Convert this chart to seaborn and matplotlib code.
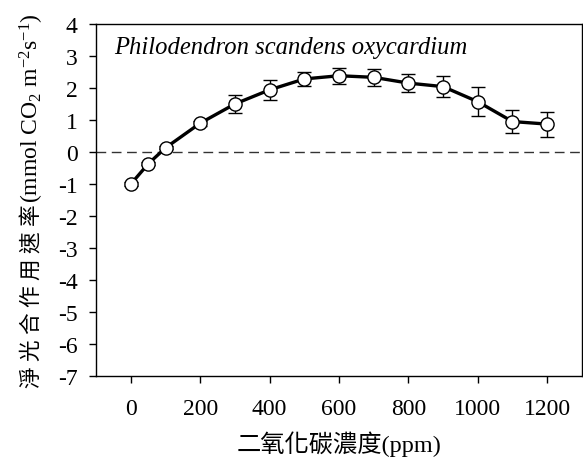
import matplotlib
matplotlib.use("Agg")
import matplotlib.pyplot as plt
import seaborn as sns
import pandas as pd

# CO2 concentration (ppm) and net photosynthesis rate with standard error
co2_ppm = [0, 50, 100, 200, 300, 400, 500, 600, 700, 800, 900, 1000, 1100, 1200]
net_rate = [-1.0, -0.37, 0.13, 0.90, 1.50, 1.94, 2.28, 2.38, 2.33, 2.15, 2.04, 1.57, 0.95, 0.87]
std_err = [0.05, 0.05, 0.05, 0.08, 0.27, 0.31, 0.23, 0.25, 0.27, 0.28, 0.32, 0.45, 0.37, 0.39]
y_ticks = list(range(-7, 5))
x_ticks = [0, 200, 400, 600, 800, 1000, 1200]

sns.set_theme(style="ticks")
plt.rcParams["font.family"] = ["Liberation Serif", "Noto Sans CJK TC", "DejaVu Sans"]
plt.rcParams["mathtext.fontset"] = "custom"
plt.rcParams["mathtext.rm"] = "Liberation Serif"
plt.rcParams["mathtext.it"] = "Liberation Serif:italic"
plt.rcParams["axes.unicode_minus"] = False

df = pd.DataFrame({"co2": co2_ppm, "rate": net_rate, "se": std_err})

W, H = 583, 460
fig = plt.figure(figsize=(W / 100, H / 100), dpi=100)
ax = fig.add_axes([0.165, 0.180, 0.833, 0.766])

ax.axhline(0, color="#333333", lw=1.0, ls=(0, (7, 4)), zorder=1)

ax.errorbar(df["co2"], df["rate"], yerr=df["se"], fmt="none", ecolor="black",
            elinewidth=1.0, capsize=5, capthick=1.0, zorder=2)
sns.lineplot(data=df, x="co2", y="rate", ax=ax, color="black", lw=2.4,
             marker="o", markersize=9.5, markerfacecolor="white",
             markeredgecolor="black", markeredgewidth=1.0, zorder=3)

ax.set_xlim(-100, 1300)
ax.set_ylim(-7, 4)
ax.set_xticks(x_ticks)
ax.set_yticks(y_ticks)
ax.tick_params(axis="both", labelsize=17, direction="out", length=5, width=1,
               color="black", labelcolor="black")
ax.tick_params(axis="y", pad=8.5)
ax.tick_params(axis="x", pad=11)
for s in ax.spines.values():
    s.set_color("black")
    s.set_linewidth(1.0)

ax.set_xlabel("二氧化碳濃度(ppm)", fontsize=17.5, labelpad=8, color="black")
ax.set_ylabel("")

# y-axis title: CJK part followed by the unit written in mathtext
x0_px, y0_px = 39, H - 388
cjk = fig.text(x0_px / W, y0_px / H, "淨 光 合 作 用 速 率", fontsize=15.6,
               rotation=90, rotation_mode="anchor", ha="left", va="baseline",
               color="black")
renderer = fig.canvas.get_renderer()
cjk_len = cjk.get_window_extent(renderer).height
fig.text(x0_px / W, (y0_px + cjk_len + 1) / H,
         "(mmol CO$_2$ m$^{\\mathrm{-2}}$s$^{\\mathrm{-1}}$)", fontsize=17,
         rotation=90, rotation_mode="anchor", ha="left", va="baseline",
         color="black")

ax.text(0.037, 0.935, "Philodendron scandens oxycardium", transform=ax.transAxes,
        fontsize=17.7, style="italic", ha="left", va="center", color="black")

fig.savefig("out.png", dpi=100)
